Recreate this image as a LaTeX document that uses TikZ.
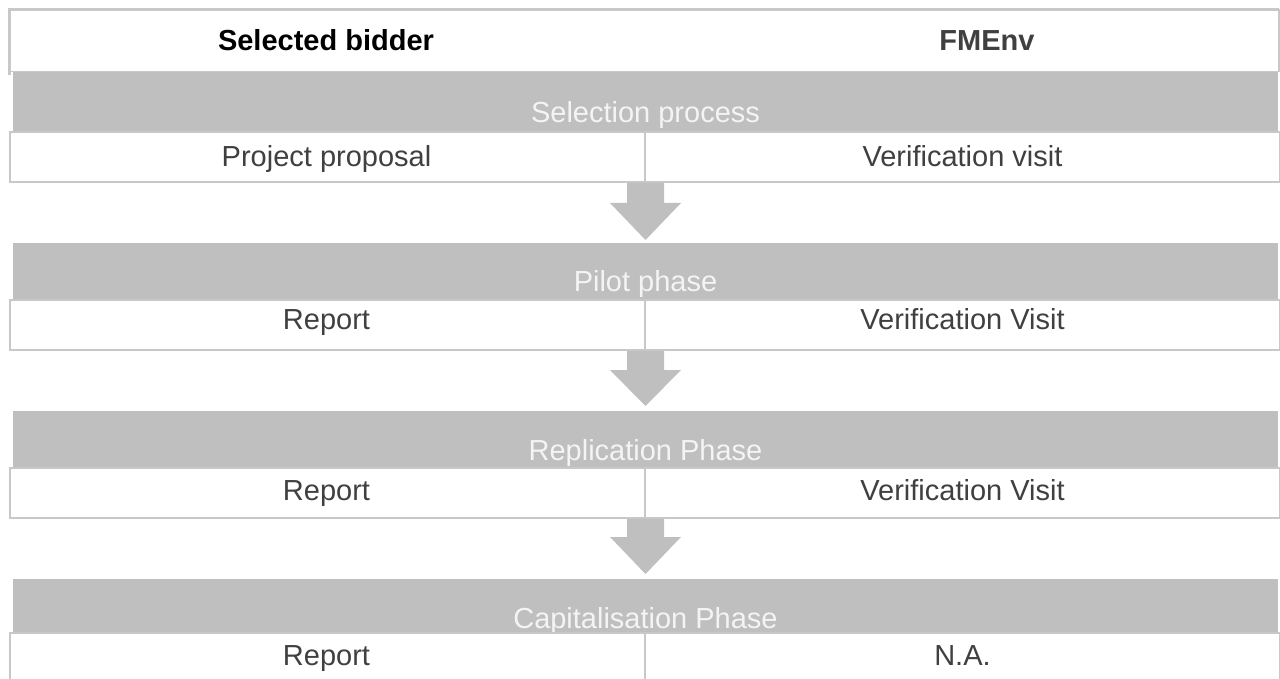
\documentclass[tikz,border=0pt]{standalone}
\usepackage{fontspec}
\setmainfont{Liberation Sans}
\definecolor{bandgray}{HTML}{BFBFBF}
\definecolor{linegray}{HTML}{C8C8C8}
\definecolor{txtgray}{HTML}{404040}
\definecolor{bandtxt}{HTML}{F4F4F4}
\tikzset{
  band/.style={fill=bandgray, draw=none, inner sep=0pt, outer sep=0pt, minimum width=1265pt, minimum height=#1},
  rowbox/.style={fill=white, draw=linegray, line width=1.5pt, inner sep=0pt, outer sep=0pt, minimum width=1270pt, minimum height=50pt},
  bandtext/.style={text=bandtxt, font=\fontsize{29}{33}\selectfont, inner sep=0pt, anchor=base},
  celltext/.style={text=txtgray, font=\fontsize{29}{33}\selectfont, inner sep=0pt, anchor=base},
  headtext/.style={font=\fontsize{29}{33}\selectfont\bfseries, inner sep=0pt, anchor=base},
  divider/.style={draw=linegray, line width=1.5pt},
  phasearrow/.style={fill=bandgray, draw=none}
}
\begin{document}
\begin{tikzpicture}[x=1pt,y=-1pt]
\useasboundingbox (0,0) rectangle (1280,679);
% header
\node[draw=linegray, line width=1.2pt, fill=white, inner sep=0pt, outer sep=0pt, minimum width=1270pt, minimum height=62pt] (head) at (644,40.5) {};
\draw[linegray, line width=3pt] ([xshift=0.5pt]head.south west) ++(0,4) -- ([xshift=0.5pt,yshift=-0.5pt]head.north west) -- ([yshift=-0.5pt]head.north east);
\node[headtext, text=black] (h1) at (326,51) {Selected bidder};
\node[headtext, text=txtgray] (h2) at (987,51) {FMEnv};
% phase 1
\node[band=60pt] (b1) at (645.5,102) {};
\node[bandtext] (t1) at (645.5,123) {Selection process};
\node[rowbox] (r1) at (645,157) {};
\draw[divider] (r1.north) -- (r1.south);
\node[celltext] (c1a) at (326.5,167) {Project proposal};
\node[celltext] (c1b) at (962.5,167) {Verification visit};
% phase 2
\node[band=57pt] (b2) at (645.5,271.5) {};
\node[bandtext] (t2) at (645.5,291) {Pilot phase};
\node[rowbox] (r2) at (645,325) {};
\draw[divider] (r2.north) -- (r2.south);
\node[celltext] (c2a) at (326.5,329) {Report};
\node[celltext] (c2b) at (962.5,329) {Verification Visit};
% phase 3
\node[band=57pt] (b3) at (645.5,439.5) {};
\node[bandtext] (t3) at (645.5,460) {Replication Phase};
\node[rowbox] (r3) at (645,493) {};
\draw[divider] (r3.north) -- (r3.south);
\node[celltext] (c3a) at (326.5,500) {Report};
\node[celltext] (c3b) at (962.5,500) {Verification Visit};
% phase 4
\node[band=54pt] (b4) at (645.5,606) {};
\node[bandtext] (t4) at (645.5,628) {Capitalisation Phase};
\node[rowbox] (r4) at (645,658) {};
\draw[divider] (r4.north) -- (r4.south);
\node[celltext] (c4a) at (326.5,665) {Report};
\node[celltext] (c4b) at (962.5,665) {N.A.};
% arrows
\fill[phasearrow] (627,183) -- (664,183) -- (664,203) -- (681,203) -- (645.5,240) -- (610,203) -- (627,203) -- cycle;
\fill[phasearrow] (627,351) -- (664,351) -- (664,370) -- (681,370) -- (645.5,406) -- (610,370) -- (627,370) -- cycle;
\fill[phasearrow] (627,519) -- (664,519) -- (664,537) -- (681,537) -- (645.5,574) -- (610,537) -- (627,537) -- cycle;
\end{tikzpicture}
\end{document}
